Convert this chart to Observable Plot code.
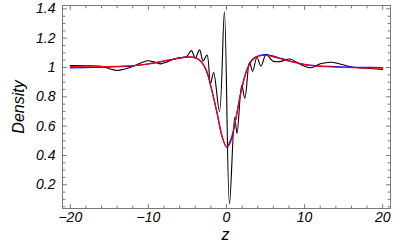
<!DOCTYPE html>
<html><head><meta charset="utf-8">
<script src="https://cdn.jsdelivr.net/npm/d3@7"></script>
<script src="https://cdn.jsdelivr.net/npm/@observablehq/plot@0.6"></script>
<style>body{margin:0;background:#fff;}</style>
</head><body><div id="chart"></div>
<script>
// black (oscillating) curve
const blackZ = [-20,-18,-16,-15,-14,-13,-12,-11,-10.1,-9.2,-8.4,-7.5,-6.6,-5.8,-5.1,-4.5,-4.0,-3.45,-3.0,-2.5,-2.05,-1.65,-0.9,-0.27,0.38,1.05,1.35,1.95,2.35,2.95,3.35,3.9,4.4,5.1,5.9,6.8,8.1,9.5,10.8,12,13.5,14.8,16,18,20];
const blackV = [1.013,1.012,1.008,0.992,0.98,0.99,1.008,1.03,1.046,1.037,1.025,1.04,1.06,1.068,1.075,1.115,1.065,1.12,1.045,1.085,0.89,0.965,0.70,1.38,0.07,0.66,0.55,0.88,0.79,1.035,0.975,1.07,1.01,1.09,1.045,1.04,1.058,1.02,0.998,1.025,1.036,1.02,1.003,0.995,0.986];
// red smooth curve
const redZ = [-20,-17,-14,-12,-10,-8,-6,-5,-4.2,-3.4,-2.6,-1.85,-1.2,-0.55,0,0.55,1.15,1.8,2.6,3.4,4.3,5.2,6.5,8,9.5,11,13,15,17,20];
const redV = [1.006,1.005,1.008,1.013,1.025,1.045,1.065,1.072,1.07,1.05,0.985,0.84,0.69,0.53,0.46,0.51,0.64,0.82,0.98,1.055,1.08,1.082,1.065,1.043,1.025,1.012,1.005,1.0,0.998,0.996];
// blue smooth curve
const blueZ = [-20,-17,-14,-12,-10,-8,-6,-5,-4.2,-3.4,-2.6,-1.85,-1.2,-0.55,0.05,0.6,1.15,1.8,2.6,3.4,4.3,5.2,6.5,8,9.5,11,13,15,17,20];
const blueV = [0.998,1.0,1.005,1.011,1.024,1.044,1.064,1.071,1.069,1.047,0.98,0.835,0.685,0.525,0.455,0.505,0.635,0.82,0.985,1.06,1.083,1.087,1.07,1.046,1.027,1.014,1.007,1.003,1.001,1.0];

const xMajor = [-20,-10,0,10,20];
const xLabels = ["\u221220","\u221210","0","10","20"];
const xMinor = [-18,-16,-14,-12,-8,-6,-4,-2,2,4,6,8,12,14,16,18];
const yMajor = [0.2,0.4,0.6,0.8,1,1.2,1.4];
const yLabels = ["0.2","0.4","0.6","0.8","1","1.2","1.4"];
const yMinor = [0.05,0.1,0.15,0.25,0.3,0.35,0.45,0.5,0.55,0.65,0.7,0.75,0.85,0.9,0.95,1.05,1.1,1.15,1.25,1.3,1.35];

const toRows = (Z, V) => Z.map((z, i) => ({z, v: V[i]}));
const black = toRows(blackZ, blackV);
const red = toRows(redZ, redV);
const blue = toRows(blueZ, blueV);

const frameColor = "#7a7a7a";
const font = "'Liberation Sans', Arial, Helvetica, sans-serif";
const tickShape = {draw(ctx, l) { ctx.moveTo(0, 0); ctx.lineTo(0, -l); }};
const ticks = (data, ch, anchor, rot, len) => Plot.vector(data, {
  [ch]: d => d, frameAnchor: anchor, rotate: rot, length: len, anchor: "start",
  shape: tickShape, stroke: frameColor, strokeWidth: 1
});

const chart = Plot.plot({
  width: 403, height: 249,
  marginLeft: 62, marginRight: 13, marginTop: 5, marginBottom: 41,
  style: {fontFamily: font, fontStyle: "italic", fontSize: "14px", background: "#fff", color: "#000"},
  x: {domain: [-21, 21]},
  y: {domain: [0.038, 1.423]},
  marks: [
    Plot.line(black, {x: "z", y: "v", stroke: "#000", strokeWidth: 1.1, curve: "catmull-rom"}),
    Plot.line(blue, {x: "z", y: "v", stroke: "#0000ff", strokeWidth: 1.2, curve: "catmull-rom"}),
    Plot.line(red, {x: "z", y: "v", stroke: "#ff0000", strokeWidth: 1.2, curve: "catmull-rom"}),
    Plot.frame({stroke: frameColor, strokeWidth: 1}),
    ticks(xMajor, "x", "bottom", 0, 4), ticks(xMinor, "x", "bottom", 0, 2.5),
    ticks(xMajor, "x", "top", 180, 4), ticks(xMinor, "x", "top", 180, 2.5),
    ticks(yMajor, "y", "left", 90, 4), ticks(yMinor, "y", "left", 90, 2.5),
    ticks(yMajor, "y", "right", -90, 4), ticks(yMinor, "y", "right", -90, 2.5),
    Plot.axisX(xMajor, {tickFormat: (d, i) => xLabels[i], tickSize: 0, tickPadding: 4, fontSize: 14, fontStyle: "italic", label: null}),
    Plot.axisY(yMajor, {tickFormat: (d, i) => yLabels[i], tickSize: 0, tickPadding: 7, fontSize: 14, fontStyle: "italic", label: null}),
    Plot.text(["Density"], {text: d => d, frameAnchor: "left", textAnchor: "middle", lineAnchor: "middle", rotate: -90, dx: -44, fontSize: 16, fontStyle: "italic"}),
    Plot.text(["z"], {text: d => d, frameAnchor: "bottom", textAnchor: "middle", lineAnchor: "middle", dy: 26, dx: -1, fontSize: 16, fontStyle: "italic"})
  ]
});
document.getElementById("chart").append(chart);
</script>
</body></html>
